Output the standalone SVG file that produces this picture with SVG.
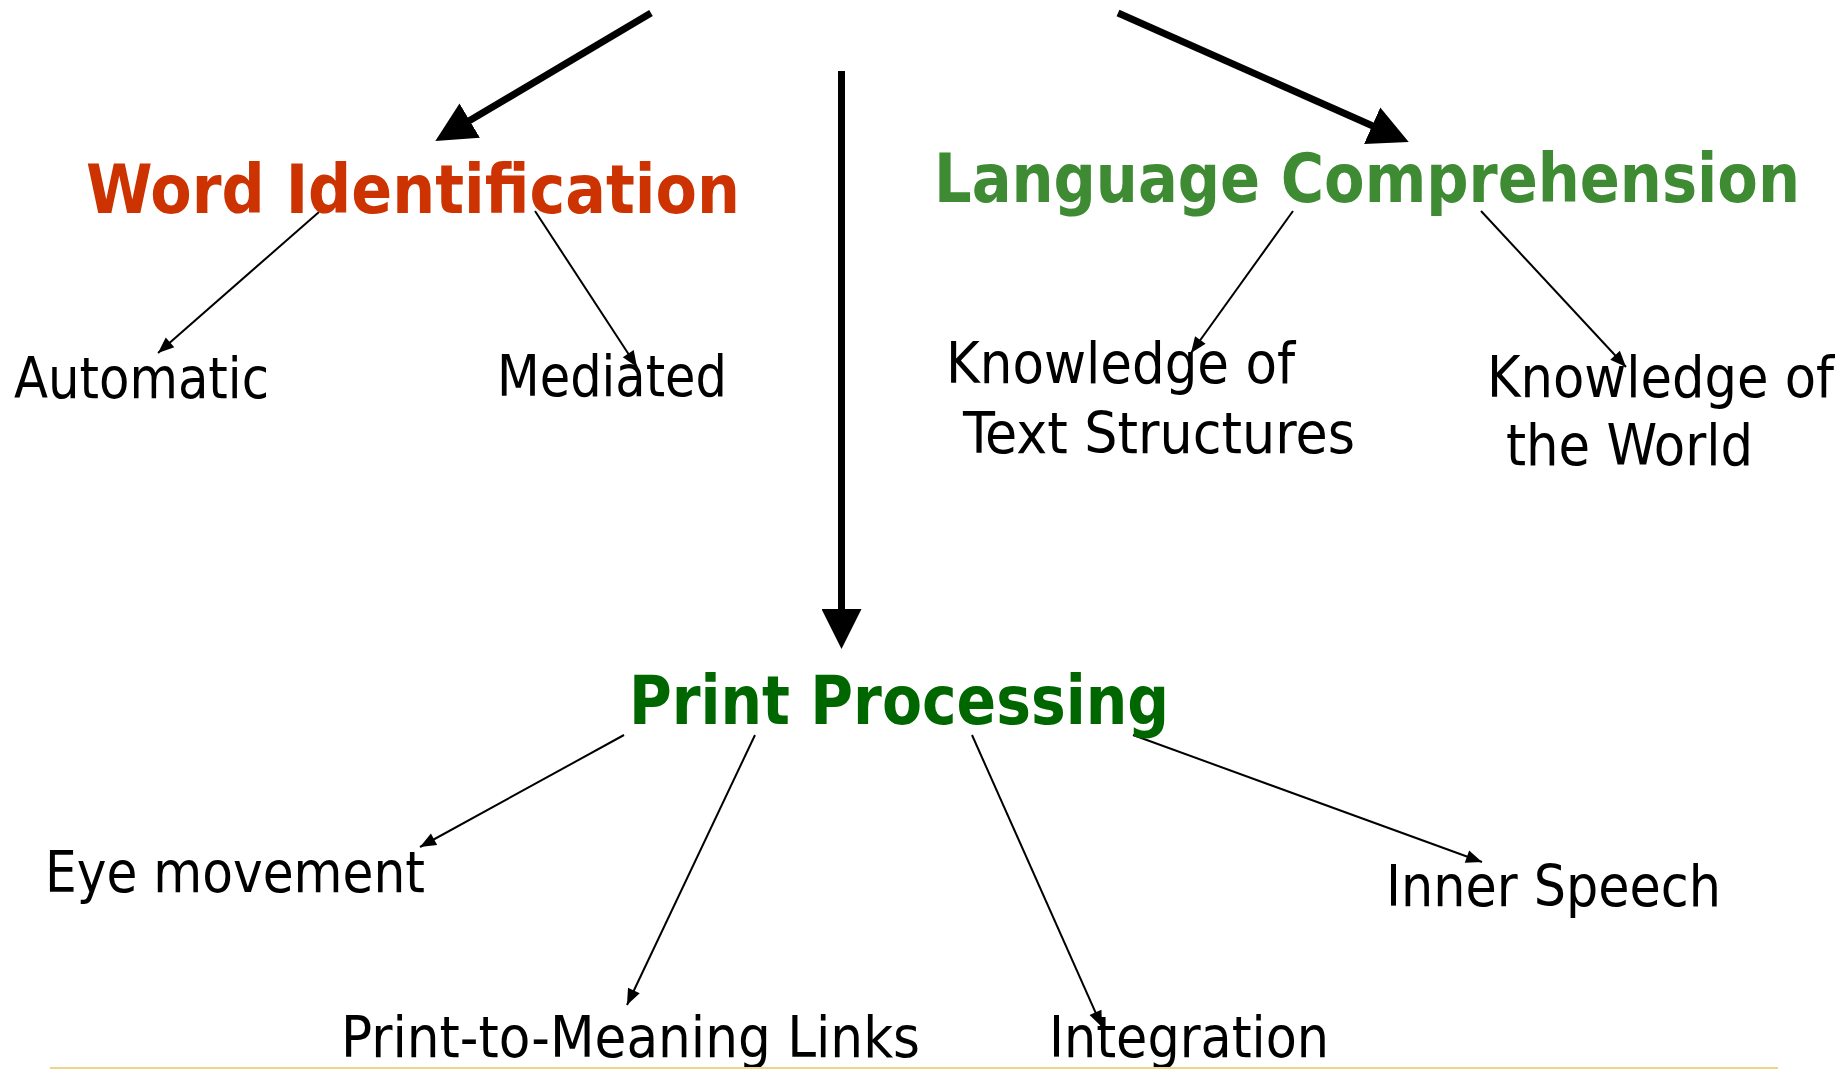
<svg xmlns="http://www.w3.org/2000/svg" width="1845" height="1069" viewBox="0 0 1845 1069">
  <style>
    .head { font-family: "DejaVu Sans Condensed", "DejaVu Sans", Verdana, sans-serif; font-weight: bold; font-size: 68px; font-stretch: condensed; }
    .item { font-family: "DejaVu Sans Condensed", "DejaVu Sans", Verdana, sans-serif; font-size: 57px; fill: #000; font-stretch: condensed; }
    .big { stroke: #000; stroke-width: 7; fill: none; marker-end: url(#bighead); }
    .thin { stroke: #000; stroke-width: 2; fill: none; marker-end: url(#thinhead); }
  </style>
  <defs>
    <marker id="bighead" markerUnits="userSpaceOnUse" viewBox="-2 -20 42 40" markerWidth="42" markerHeight="40" refX="0" refY="0" orient="auto">
      <path d="M-2,-20 L38,0 L-2,20 z" fill="#000"/>
    </marker>
    <marker id="thinhead" markerUnits="userSpaceOnUse" viewBox="-17 -7 18 14" markerWidth="18" markerHeight="14" refX="0" refY="0" orient="auto">
      <path d="M-16,-6.5 L0,0 L-16,6.5 z" fill="#000"/>
    </marker>
  </defs>

  <rect width="1845" height="1069" fill="#fff"/>

  <!-- connectors -->
  <g id="connectors">
    <line class="big" x1="651" y1="13" x2="468" y2="121.6"/>
    <line class="big" x1="841.5" y1="71" x2="841.5" y2="611"/>
    <line class="big" x1="1118" y1="13" x2="1374" y2="126.5"/>

    <line class="thin" x1="319" y1="212" x2="158" y2="353"/>
    <line class="thin" x1="535" y1="211" x2="637" y2="367"/>
    <line class="thin" x1="1293" y1="211" x2="1191" y2="353"/>
    <line class="thin" x1="1481" y1="211" x2="1626" y2="367"/>

    <line class="thin" x1="624" y1="735" x2="420" y2="847"/>
    <line class="thin" x1="755" y1="735" x2="627" y2="1005"/>
    <line class="thin" x1="972" y1="735" x2="1102" y2="1027"/>
    <line class="thin" x1="1133" y1="735" x2="1482" y2="862"/>
  </g>

  <!-- main concepts -->
  <g id="word-identification">
    <text class="head" x="86" y="213" fill="#CC3300" textLength="654" lengthAdjust="spacingAndGlyphs">Word Identification</text>
  </g>
  <g id="language-comprehension">
    <text class="head" x="934" y="202" fill="#3E8B34" textLength="866" lengthAdjust="spacingAndGlyphs">Language Comprehension</text>
  </g>
  <g id="print-processing">
    <text class="head" x="629" y="724" fill="#006600" textLength="540" lengthAdjust="spacingAndGlyphs">Print Processing</text>
  </g>

  <!-- sub-components -->
  <g id="automatic">
    <text class="item" x="14" y="398" textLength="255" lengthAdjust="spacingAndGlyphs">Automatic</text>
  </g>
  <g id="mediated">
    <text class="item" x="497" y="396" textLength="230" lengthAdjust="spacingAndGlyphs">Mediated</text>
  </g>
  <g id="text-structures">
    <text class="item" x="946" y="383" textLength="349" lengthAdjust="spacingAndGlyphs">Knowledge of</text>
    <text class="item" x="963" y="453" textLength="392" lengthAdjust="spacingAndGlyphs">Text Structures</text>
  </g>
  <g id="world-knowledge">
    <text class="item" x="1487" y="397" textLength="347" lengthAdjust="spacingAndGlyphs">Knowledge of</text>
    <text class="item" x="1506" y="465" textLength="247" lengthAdjust="spacingAndGlyphs">the World</text>
  </g>
  <g id="eye-movement">
    <text class="item" x="45" y="892" textLength="380" lengthAdjust="spacingAndGlyphs">Eye movement</text>
  </g>
  <g id="print-to-meaning">
    <text class="item" x="341" y="1057" textLength="579" lengthAdjust="spacingAndGlyphs">Print-to-Meaning Links</text>
  </g>
  <g id="integration">
    <text class="item" x="1049" y="1057" textLength="280" lengthAdjust="spacingAndGlyphs">Integration</text>
  </g>
  <g id="inner-speech">
    <text class="item" x="1386" y="906" textLength="335" lengthAdjust="spacingAndGlyphs">Inner Speech</text>
  </g>

  <!-- footer rule -->
  <line x1="50" y1="1068" x2="1778" y2="1068" stroke="#EDD68A" stroke-width="2"/>
</svg>
